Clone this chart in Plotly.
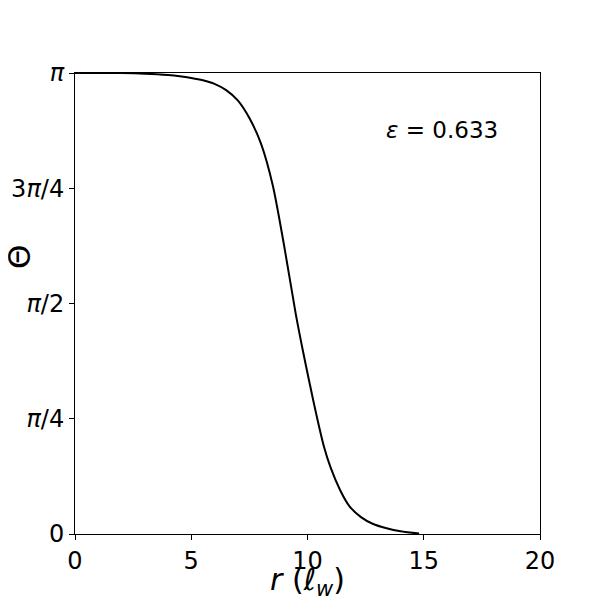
import numpy as np
import plotly.graph_objects as go

# perfil Θ(r)
r = [0, 1, 2, 3, 4, 4.5, 5, 5.5, 6, 6.5, 7, 7.5, 8, 8.5, 9, 9.5, 9.8, 10.1,
     10.4, 10.7, 11, 11.4, 11.8, 12.3, 12.8, 13.4, 14, 14.8]
theta = [3.1416, 3.1414, 3.141, 3.137, 3.128, 3.120, 3.108, 3.092, 3.068, 3.025,
         2.955, 2.835, 2.66, 2.38, 1.96, 1.495, 1.25, 1.02, 0.80, 0.60, 0.45,
         0.30, 0.19, 0.115, 0.07, 0.039, 0.018, 0.003]

y_ticks = [0, np.pi / 4, np.pi / 2, 3 * np.pi / 4, np.pi]
y_labels = ["0", "<i>π</i>/4", "<i>π</i>/2", "3<i>π</i>/4", "<i>π</i>"]
x_ticks = [0, 5, 10, 15, 20]

fig = go.Figure()
fig.add_trace(go.Scatter(x=r, y=theta, mode="lines",
                         line=dict(color="black", width=2, shape="spline", smoothing=0.8),
                         showlegend=False))

fig.add_annotation(x=13.3, y=2.754, xref="x", yref="y", xanchor="left",
                   text="<i>ε</i> = 0.633", showarrow=False,
                   font=dict(size=23, color="black"))

# títulos dos eixos como anotações (posição fixa)
fig.add_annotation(x=0.5, y=0, xref="paper", yref="paper", yanchor="middle",
                   yshift=-47, showarrow=False,
                   text="<i>r</i> (<i>ℓ</i><sub><i>w</i></sub>)",
                   font=dict(size=30, color="black"))
fig.add_annotation(x=0, y=0.601, xref="paper", yref="paper", xanchor="center",
                   xshift=-56, showarrow=False, textangle=-90,
                   text="Θ", font=dict(size=31, color="black"))

axis_style = dict(showline=True, linecolor="black", linewidth=1, mirror=True,
                  ticks="outside", ticklen=5, tickcolor="black", showgrid=False,
                  zeroline=False, automargin=False,
                  tickfont=dict(size=24, color="black"))

# a página tem margem de 8px: figura de 592px para caber na janela
fig.update_layout(
    width=592, height=592,
    margin=dict(l=67, r=60, t=65, b=66),
    plot_bgcolor="white", paper_bgcolor="white",
    font=dict(family="DejaVu Sans", color="black"),
    xaxis=dict(range=[0, 20], tickvals=x_ticks, **axis_style),
    yaxis=dict(range=[0, np.pi], tickvals=y_ticks, ticktext=y_labels, **axis_style),
)

fig.write_html("out.html")
